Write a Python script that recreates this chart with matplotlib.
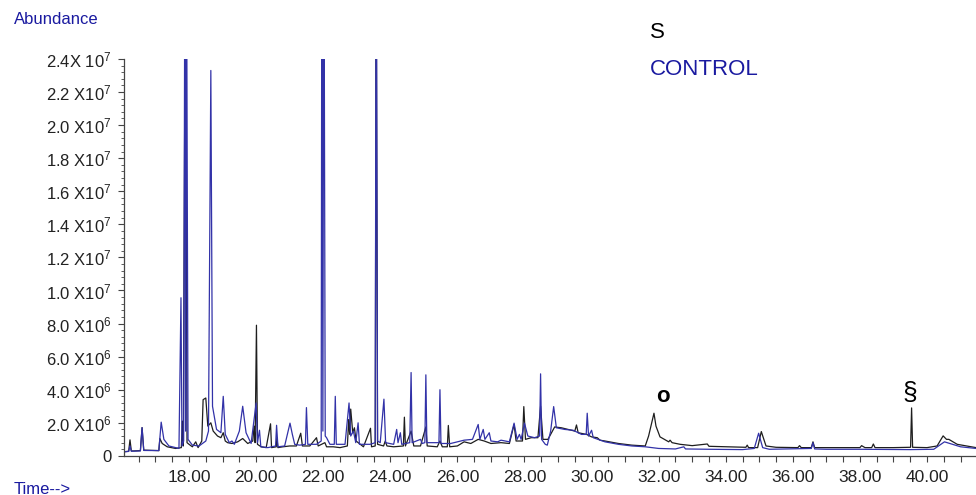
import numpy as np
import matplotlib
matplotlib.use('Agg')
import matplotlib.pyplot as plt
from matplotlib.ticker import MultipleLocator

plt.rcParams['font.family'] = ['Liberation Sans', 'DejaVu Sans']
plt.rcParams['mathtext.fontset'] = 'custom'
plt.rcParams['mathtext.rm'] = 'Liberation Sans'
plt.rcParams['mathtext.default'] = 'regular'

# chromatogram traces, time (min) vs abundance (x 1e6), vertices
s_time = [16.06, 16.20, 16.24, 16.28, 16.35, 16.55, 16.60, 16.65, 17.10, 17.13, 17.20, 17.35,
          17.60, 17.77, 17.80, 17.83, 17.89, 17.94, 18.00, 18.10, 18.20, 18.27, 18.38, 18.42,
          18.50, 18.56, 18.65, 18.72, 18.85, 18.95, 19.02, 19.08, 19.15, 19.28, 19.45, 19.60,
          19.75, 19.90, 19.94, 19.97, 20.01, 20.04, 20.15, 20.30, 20.43, 20.46, 20.60, 20.62,
          20.65, 20.80, 21.00, 21.20, 21.33, 21.38, 21.60, 21.80, 21.85, 22.05, 22.10, 22.30,
          22.50, 22.72, 22.76, 22.79, 22.82, 22.88, 22.93, 22.98, 23.20, 23.41, 23.44, 23.55,
          23.58, 23.62, 23.80, 23.85, 23.90, 24.10, 24.39, 24.42, 24.45, 24.62, 24.70, 24.90,
          25.06, 25.10, 25.40, 25.48, 25.55, 25.70, 25.73, 25.77, 26.00, 26.20, 26.40, 26.62,
          26.80, 27.00, 27.30, 27.55, 27.69, 27.75, 27.94, 27.98, 28.03, 28.20, 28.40, 28.48,
          28.55, 28.70, 28.90, 29.10, 29.30, 29.50, 29.55, 29.60, 29.85, 30.00, 30.17, 30.25,
          30.40, 30.80, 31.20, 31.60, 31.70, 31.86, 31.92, 32.04, 32.30, 32.34, 32.40, 32.64,
          33.00, 33.45, 33.50, 34.00, 34.60, 34.64, 34.68, 34.95, 35.06, 35.20, 35.50, 36.15,
          36.20, 36.25, 36.55, 36.60, 36.65, 37.30, 38.00, 38.05, 38.15, 38.35, 38.40, 38.45,
          39.00, 39.51, 39.54, 39.57, 40.00, 40.30, 40.48, 40.58, 40.65, 40.90, 41.46]
s_abund = [0.25, 0.28, 0.97, 0.30, 0.30, 0.32, 1.71, 0.35, 0.32, 1.05, 0.75, 0.55,
           0.45, 0.50, 2.10, 0.60, 30.0, 0.80, 0.70, 0.55, 0.85, 0.50, 0.90, 3.40,
           3.50, 1.80, 2.00, 1.50, 1.20, 1.10, 1.40, 0.90, 0.80, 0.75, 0.85, 1.05,
           0.75, 0.90, 1.80, 0.80, 7.90, 0.70, 0.55, 0.50, 1.94, 0.50, 0.55, 1.10,
           0.50, 0.55, 0.60, 0.60, 1.37, 0.60, 0.60, 1.10, 0.60, 0.80, 0.55, 0.55,
           0.50, 0.60, 2.20, 1.30, 2.83, 1.40, 1.70, 0.90, 0.55, 1.67, 0.55, 0.60,
           30.0, 0.70, 0.60, 0.90, 0.60, 0.55, 0.60, 2.34, 0.60, 1.50, 0.60, 0.60,
           1.75, 0.60, 0.55, 0.90, 0.55, 0.55, 1.84, 0.55, 0.60, 0.85, 0.75, 1.00,
           0.90, 0.75, 0.80, 0.75, 1.90, 0.90, 0.90, 2.98, 1.00, 1.10, 1.10, 3.00,
           1.00, 1.00, 1.75, 1.70, 1.60, 1.50, 1.87, 1.40, 1.30, 1.15, 1.10, 0.95,
           0.90, 0.75, 0.65, 0.60, 1.20, 2.58, 1.80, 1.15, 0.85, 0.95, 0.80, 0.70,
           0.62, 0.72, 0.58, 0.55, 0.52, 0.65, 0.50, 0.50, 1.47, 0.60, 0.52, 0.50,
           0.62, 0.50, 0.50, 0.85, 0.50, 0.50, 0.50, 0.62, 0.50, 0.50, 0.72, 0.50,
           0.50, 0.52, 2.90, 0.52, 0.50, 0.60, 1.21, 1.00, 1.00, 0.70, 0.50]

c_time = [16.06, 16.20, 16.24, 16.28, 16.55, 16.60, 16.65, 17.10, 17.17, 17.25, 17.40, 17.70,
          17.76, 17.79, 17.84, 17.88, 17.90, 17.92, 17.97, 18.10, 18.30, 18.50, 18.58, 18.65,
          18.70, 18.82, 18.95, 19.02, 19.08, 19.20, 19.28, 19.35, 19.50, 19.60, 19.70, 19.85,
          20.00, 20.04, 20.10, 20.14, 20.35, 20.58, 20.61, 20.65, 20.85, 21.01, 21.08, 21.15,
          21.30, 21.47, 21.50, 21.54, 21.80, 21.94, 21.96, 21.99, 22.02, 22.06, 22.10, 22.20,
          22.33, 22.36, 22.39, 22.65, 22.77, 22.82, 22.90, 22.97, 23.04, 23.08, 23.40, 23.55,
          23.58, 23.62, 23.70, 23.81, 23.86, 24.10, 24.19, 24.23, 24.30, 24.34, 24.58, 24.62,
          24.65, 24.90, 24.95, 25.03, 25.06, 25.09, 25.40, 25.45, 25.48, 25.51, 25.80, 26.20,
          26.45, 26.62, 26.67, 26.77, 26.82, 26.95, 27.00, 27.20, 27.30, 27.55, 27.69, 27.78,
          27.85, 27.90, 28.00, 28.10, 28.30, 28.45, 28.48, 28.51, 28.62, 28.68, 28.78, 28.87,
          28.95, 29.20, 29.45, 29.70, 29.84, 29.87, 29.91, 30.00, 30.05, 30.40, 30.80, 31.20,
          31.60, 32.00, 32.50, 32.75, 32.80, 33.50, 34.50, 34.85, 34.98, 35.10, 35.30, 36.55,
          36.60, 36.65, 37.00, 38.00, 39.50, 40.20, 40.52, 41.00, 41.46]
c_abund = [0.25, 0.27, 0.60, 0.28, 0.30, 1.71, 0.33, 0.32, 2.04, 1.00, 0.60, 0.45,
           9.56, 0.60, 0.90, 35.0, 1.50, 35.0, 1.00, 0.65, 0.60, 0.90, 1.50, 23.3,
           3.00, 1.60, 1.40, 3.60, 1.30, 0.80, 0.90, 0.70, 1.50, 3.00, 1.40, 0.75,
           3.20, 0.80, 1.55, 0.55, 0.50, 0.60, 1.85, 0.55, 0.60, 1.98, 1.30, 0.70,
           0.65, 0.70, 2.92, 0.70, 0.70, 0.90, 35.0, 1.50, 35.0, 1.20, 1.10, 0.70,
           0.70, 3.60, 0.70, 0.70, 3.20, 1.20, 1.50, 0.80, 2.00, 0.70, 0.70, 0.80,
           35.0, 0.90, 0.80, 3.43, 0.80, 0.70, 1.60, 0.80, 1.40, 0.70, 0.80, 5.04,
           0.80, 1.00, 0.75, 0.80, 4.90, 0.80, 0.80, 0.80, 4.00, 0.75, 0.75, 0.95,
           1.00, 1.90, 1.00, 1.60, 1.00, 1.40, 0.90, 0.85, 0.95, 0.85, 1.98, 1.00,
           1.30, 1.00, 1.98, 1.20, 1.10, 1.20, 4.96, 1.00, 0.70, 0.65, 1.50, 2.98,
           1.70, 1.60, 1.55, 1.30, 1.30, 2.58, 1.20, 1.55, 1.10, 0.85, 0.70, 0.60,
           0.55, 0.45, 0.42, 0.55, 0.42, 0.40, 0.38, 0.45, 1.37, 0.50, 0.40, 0.45,
           0.80, 0.42, 0.40, 0.40, 0.38, 0.40, 0.85, 0.55, 0.45]

ytick_vals = [0, 2e6, 4e6, 6e6, 8e6, 1.0e7, 1.2e7, 1.4e7, 1.6e7, 1.8e7, 2.0e7, 2.2e7, 2.4e7]
ytick_labels = ['0', r'2.0 X10$^6$', r'4.0 X10$^6$', r'6.0 X10$^6$', r'8.0 X10$^6$',
                r'1.0 X10$^7$', r'1.2 X10$^7$', r'1.4 X10$^7$', r'1.6 X10$^7$',
                r'1.8 X10$^7$', r'2.0 X10$^7$', r'2.2 X10$^7$', r'2.4X 10$^7$']
xtick_vals = [18, 20, 22, 24, 26, 28, 30, 32, 34, 36, 38, 40]
xtick_labels = ['%.2f' % v for v in xtick_vals]

black = '#1e1e1e'
blue = '#3232a8'

fig = plt.figure(figsize=(9.76, 4.95), dpi=100)
ax = fig.add_axes([0.127, 0.079, 0.873, 0.802])

ax.plot(s_time, np.array(s_abund) * 1e6, color=black, lw=0.9)
ax.plot(c_time, np.array(c_abund) * 1e6, color=blue, lw=0.9)

ax.set_xlim(16.06, 41.46)
ax.set_ylim(0, 2.4e7)

ax.spines['top'].set_visible(False)
ax.spines['right'].set_visible(False)
for sp in ['left', 'bottom']:
    ax.spines[sp].set_color('#444444')
    ax.spines[sp].set_linewidth(0.9)

ax.set_xticks(xtick_vals)
ax.set_xticklabels(xtick_labels, fontsize=12.5, color='#222222')
ax.xaxis.set_minor_locator(MultipleLocator(0.5))
ax.set_yticks(ytick_vals)
ax.set_yticklabels(ytick_labels, fontsize=12, color='#222222')
ax.yaxis.set_minor_locator(MultipleLocator(4e5))
ax.tick_params(axis='x', which='both', direction='out', length=4, width=0.8,
               color='#444444', pad=6)
ax.tick_params(axis='y', which='major', direction='out', length=4, width=0.8,
               color='#444444', pad=5)
ax.tick_params(axis='y', which='minor', direction='out', length=2, width=0.6,
               color='#444444')

# annotations
ax.text(32.14, 3.58e6, 'o', fontsize=16, fontweight='bold', ha='center', va='center',
        color='black')
ax.text(39.50, 3.8e6, '§', fontsize=19, ha='center', va='center', color='black')

fig.text(0.014, 0.96, 'Abundance', fontsize=12, color='#1a1aa0', va='center')
fig.text(0.014, 0.012, 'Time-->', fontsize=12, color='#1a1aa0', va='center')
fig.text(0.666, 0.934, 'S', fontsize=16, color='black', va='center')
fig.text(0.666, 0.859, 'CONTROL', fontsize=16, color='#1a1aa0', va='center')

fig.savefig('out.png', dpi=100)
